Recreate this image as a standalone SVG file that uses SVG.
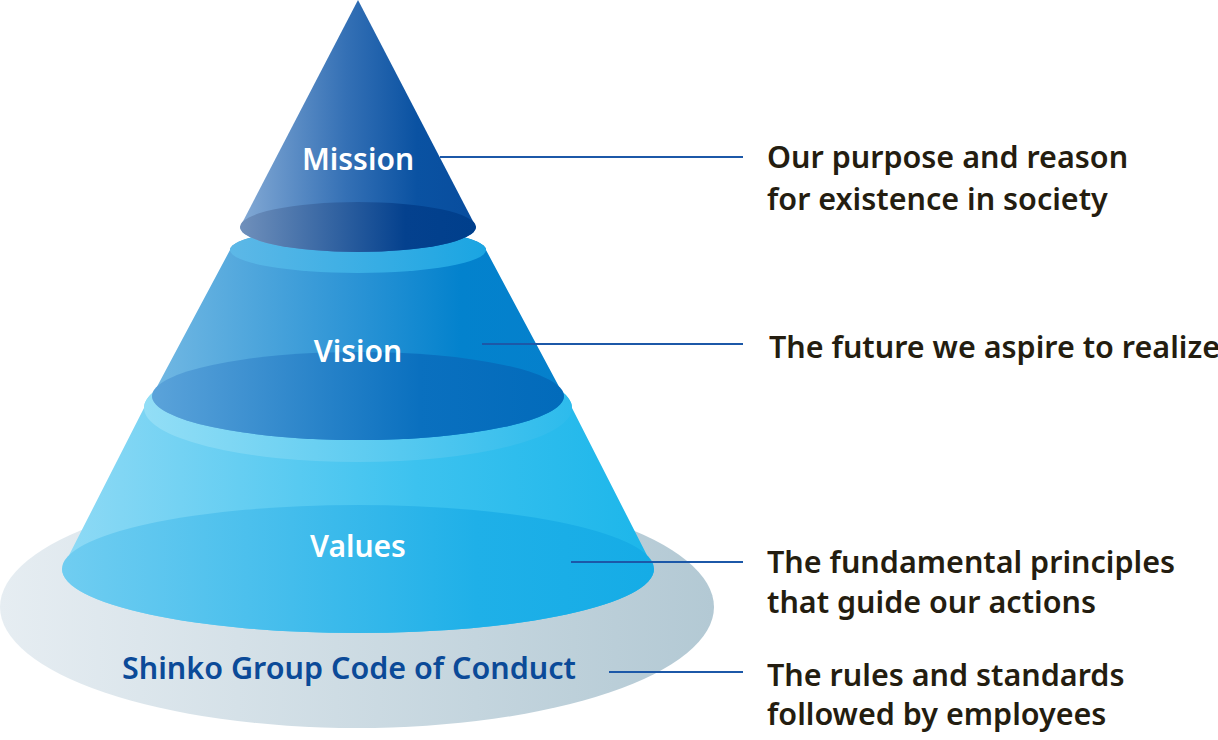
<svg xmlns="http://www.w3.org/2000/svg" width="1218" height="740" viewBox="0 0 1218 740">
<defs>
<linearGradient id="gBase" x1="0" y1="0" x2="1" y2="0"><stop offset="0" stop-color="#e6edf2"/><stop offset="1" stop-color="#b3c9d4"/></linearGradient>
<linearGradient id="gValBody" x1="0" y1="0" x2="1" y2="0"><stop offset="0" stop-color="#8fdaf5"/><stop offset="0.6" stop-color="#3cc2ef"/><stop offset="1" stop-color="#1cb6ea"/></linearGradient>
<linearGradient id="gValTop" x1="0" y1="0" x2="1" y2="0"><stop offset="0" stop-color="#93def6"/><stop offset="1" stop-color="#2dbbec"/></linearGradient>
<linearGradient id="gValBot" x1="0" y1="0" x2="1" y2="0"><stop offset="0" stop-color="#70cdf1"/><stop offset="0.7" stop-color="#1fb0e8"/><stop offset="1" stop-color="#15ace6"/></linearGradient>
<linearGradient id="gVisBody" x1="0" y1="0" x2="1" y2="0"><stop offset="0" stop-color="#72b8e3"/><stop offset="0.5" stop-color="#2a93d5"/><stop offset="0.75" stop-color="#0382cd"/><stop offset="1" stop-color="#0580cc"/></linearGradient>
<linearGradient id="gVisTop" x1="0" y1="0" x2="1" y2="0"><stop offset="0" stop-color="#5db8e7"/><stop offset="1" stop-color="#1aa5e2"/></linearGradient>
<linearGradient id="gVisBot" x1="0" y1="0" x2="1" y2="0"><stop offset="0" stop-color="#5ba3da"/><stop offset="0.65" stop-color="#0a70bf"/><stop offset="1" stop-color="#026bbb"/></linearGradient>
<linearGradient id="gMisBody" x1="0" y1="0" x2="1" y2="0"><stop offset="0" stop-color="#84aad5"/><stop offset="0.45" stop-color="#3470b5"/><stop offset="0.75" stop-color="#0a52a2"/><stop offset="1" stop-color="#084d9e"/></linearGradient>
<linearGradient id="gMisBot" x1="0" y1="0" x2="1" y2="0"><stop offset="0" stop-color="#7090bb"/><stop offset="0.7" stop-color="#04418e"/><stop offset="1" stop-color="#003f8c"/></linearGradient>
</defs>
<style>
.in{font-family:"Noto Sans","Open Sans","Liberation Sans",sans-serif;font-weight:600;font-size:30px;fill:#ffffff;text-anchor:middle}
.code{font-family:"Noto Sans","Open Sans","Liberation Sans",sans-serif;font-weight:600;font-size:30px;fill:#0b4a98;text-anchor:middle}
.desc{font-family:"Noto Sans","Open Sans","Liberation Sans",sans-serif;font-weight:600;font-size:30.5px;fill:#241d10}
.ln{stroke:#1c58a8;stroke-width:2;fill:none}
</style>
<g id="base">
<ellipse cx="357" cy="607" rx="357" ry="121" fill="url(#gBase)"/>
<text class="code" x="349" y="679" textLength="454" lengthAdjust="spacingAndGlyphs">Shinko Group Code of Conduct</text>
</g>
<g id="values">
<path d="M144,408 L62,569 A296,64 0 0 0 654,569 L572,408 A214,54 0 0 0 144,408 Z" fill="url(#gValBody)"/>
<ellipse cx="358" cy="408" rx="214" ry="54" fill="url(#gValTop)"/>
<ellipse cx="358" cy="569" rx="296" ry="64" fill="url(#gValBot)"/>
<text class="in" x="358" y="557">Values</text>
</g>
<g id="vision">
<path d="M230,250 L152,396 A206,44 0 0 0 564,396 L486,250 A128,23 0 0 0 230,250 Z" fill="url(#gVisBody)"/>
<ellipse cx="358" cy="250" rx="128" ry="23" fill="url(#gVisTop)"/>
<ellipse cx="358" cy="396" rx="206" ry="44" fill="url(#gVisBot)"/>
<text class="in" x="358" y="362">Vision</text>
</g>
<g id="mission">
<path d="M358,0 L240,227 A118,25 0 0 0 476,227 Z" fill="url(#gMisBody)"/>
<ellipse cx="358" cy="227" rx="118" ry="25" fill="url(#gMisBot)"/>
<text class="in" x="358" y="170">Mission</text>
</g>
<g id="connectors">
<line class="ln" x1="440" y1="157" x2="743" y2="157"/>
<line class="ln" x1="482" y1="344" x2="743" y2="344"/>
<line class="ln" x1="571" y1="562" x2="743" y2="562"/>
<line class="ln" x1="609" y1="672" x2="743" y2="672"/>
</g>
<g id="desc-mission"><text class="desc" x="767" y="168">Our purpose and reason</text><text class="desc" x="767" y="210">for existence in society</text></g>
<g id="desc-vision"><text class="desc" x="769" y="358">The future we aspire to realize</text></g>
<g id="desc-values"><text class="desc" x="767" y="573">The fundamental principles</text><text class="desc" x="767" y="613">that guide our actions</text></g>
<g id="desc-code"><text class="desc" x="767" y="686">The rules and standards</text><text class="desc" x="767" y="725">followed by employees</text></g>
</svg>
